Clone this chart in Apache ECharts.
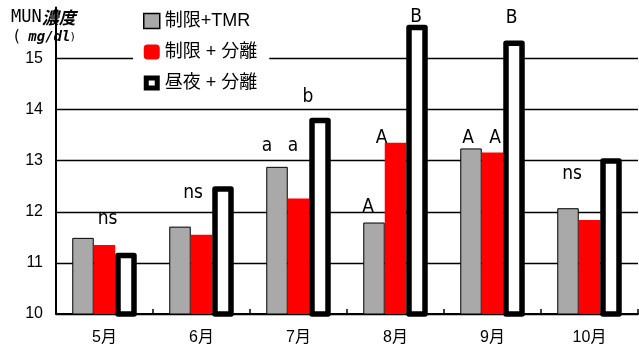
<!DOCTYPE html>
<html>
<head>
<meta charset="utf-8">
<script src="https://cdn.jsdelivr.net/npm/echarts@6/dist/echarts.min.js"></script>
<style>
  html, body { margin: 0; padding: 0; background: #fff; }
  #chart { width: 639px; height: 352px; }
</style>
</head>
<body>
<div id="chart"></div>
<script>
// Monthly MUN concentration (mg/dl) by feeding treatment
const months = ['5月', '6月', '7月', '8月', '9月', '10月'];
const seriesNames = ['制限+TMR', '制限 + 分離', '昼夜 + 分離'];
const tmrValues = [11.49, 11.71, 12.88, 11.79, 13.24, 12.07];
const limitedValues = [11.35, 11.55, 12.26, 13.35, 13.16, 11.84];
const dayNightValues = [11.20, 12.50, 13.84, 15.66, 15.35, 13.05];

// Significance letters written above the bars
const tmrLetters = ['', '', 'a', 'A', 'A', 'ns'];
const limitedLetters = ['ns', 'ns', 'a', 'A', 'A', ''];
const dayNightLetters = ['', '', 'b', 'B', 'B', ''];

const yMin = 10;
const yMax = 16;
const yStep = 1;

// Hand placement of the letters relative to the top of their bar [dx, dy]
const tmrLetterOffsets = [null, null, [-10, -11], [-6, -5], [-3, 0], [4, -24]];
const limitedLetterOffsets = [[3, -16], [-8.5, -32], [-5.5, -42], [-14, 5], [2.5, -4], null];
const dayNightLetterOffsets = [null, null, [-12, -11], [-1, 2.5], [-2.5, -13], null];

const letterFont = {
  fontFamily: '"Liberation Sans Narrow", "DejaVu Sans Condensed", "Liberation Sans", Arial, sans-serif',
  fontSize: 19,
  lineHeight: 20,
  color: '#000'
};

const mixedFont = '"Liberation Sans", "Noto Sans CJK JP", sans-serif';

function barData(values, letters, offsets) {
  return values.map((v, i) => ({
    value: v,
    label: {
      show: letters[i] !== '',
      offset: offsets[i] || [0, 0]
    }
  }));
}

function letterLabel(letters) {
  return Object.assign({
    position: 'top',
    distance: 0,
    formatter: p => letters[p.dataIndex]
  }, letterFont);
}

const chart = echarts.init(document.getElementById('chart'), null, { renderer: 'canvas' });

chart.setOption({
  animation: false,
  backgroundColor: '#fff',
  grid: { left: 56, right: 1, top: 7.4, bottom: 38, containLabel: false },
  legend: {
    orient: 'vertical',
    left: 133,
    top: 4,
    padding: [8, 12, 8, 10],
    itemGap: 13,
    itemWidth: 16,
    itemHeight: 15,
    backgroundColor: '#fff',
    selectedMode: false,
    textStyle: {
      fontFamily: mixedFont,
      fontSize: 18,
      color: '#000'
    },
    data: [
      { name: seriesNames[0], icon: 'rect',
        itemStyle: { color: '#a9a9a9', borderColor: '#000', borderWidth: 1.5 } },
      { name: seriesNames[1], icon: 'roundRect',
        itemStyle: { color: '#ff0000', borderWidth: 0 } },
      { name: seriesNames[2],
        icon: 'path://M0,0H16V15H0Z M5,5V10H11V5Z',
        itemStyle: { color: '#000', borderWidth: 0 } }
    ]
  },
  xAxis: {
    type: 'category',
    data: months,
    boundaryGap: true,
    axisLine: { show: true, lineStyle: { color: '#000', width: 2 } },
    axisTick: { show: true, inside: true, length: 5, lineStyle: { color: '#000', width: 1.5 } },
    axisLabel: {
      margin: 16,
      color: '#000',
      fontSize: 16,
      fontFamily: mixedFont
    },
    splitLine: { show: false }
  },
  yAxis: {
    type: 'value',
    min: yMin,
    max: yMax,
    interval: yStep,
    axisLine: { show: true, lineStyle: { color: '#000', width: 2 } },
    axisTick: { show: false },
    axisLabel: {
      margin: 13,
      color: '#000',
      fontSize: 16,
      fontFamily: '"Liberation Sans", Arial, sans-serif',
      showMaxLabel: false
    },
    splitLine: {
      show: true,
      showMaxLine: false,
      lineStyle: { color: '#000', width: 1.3 }
    }
  },
  graphic: [
    {
      type: 'text',
      left: 11,
      top: 9,
      style: {
        text: '{a|MUN}{b|濃度}',
        rich: {
          a: { fontFamily: '"DejaVu Sans Mono", monospace', fontSize: 17, fill: '#000' },
          b: { fontFamily: '"Noto Sans CJK JP", sans-serif', fontSize: 17, fontWeight: 'bold',
               fontStyle: 'italic', fill: '#000' }
        }
      }
    },
    {
      type: 'text',
      left: 14,
      top: 30,
      style: {
        text: '{p|(}{c| mg/dl}{q|)}',
        rich: {
          p: { fontFamily: '"DejaVu Sans", sans-serif', fontSize: 15, fill: '#000' },
          c: { fontFamily: '"DejaVu Sans Mono", monospace', fontSize: 14, fontStyle: 'italic',
               fontWeight: 'bold', fill: '#000' },
          q: { fontFamily: '"DejaVu Sans", sans-serif', fontSize: 11, fill: '#000' }
        }
      }
    }
  ],
  series: [
    {
      name: seriesNames[0],
      type: 'bar',
      barWidth: 21.5,
      barGap: '0%',
      itemStyle: { color: '#a9a9a9', borderColor: '#000', borderWidth: 1 },
      label: letterLabel(tmrLetters),
      data: barData(tmrValues, tmrLetters, tmrLetterOffsets)
    },
    {
      name: seriesNames[1],
      type: 'bar',
      barWidth: 21.5,
      barGap: '0%',
      itemStyle: { color: '#ff0000', borderWidth: 0 },
      label: letterLabel(limitedLetters),
      data: barData(limitedValues, limitedLetters, limitedLetterOffsets)
    },
    {
      name: seriesNames[2],
      type: 'bar',
      barWidth: 21.5,
      barGap: '0%',
      itemStyle: { color: '#fff', borderColor: '#000', borderWidth: 5.5, borderJoin: 'round' },
      label: letterLabel(dayNightLetters),
      data: barData(dayNightValues, dayNightLetters, dayNightLetterOffsets)
    }
  ]
});
</script>
</body>
</html>
